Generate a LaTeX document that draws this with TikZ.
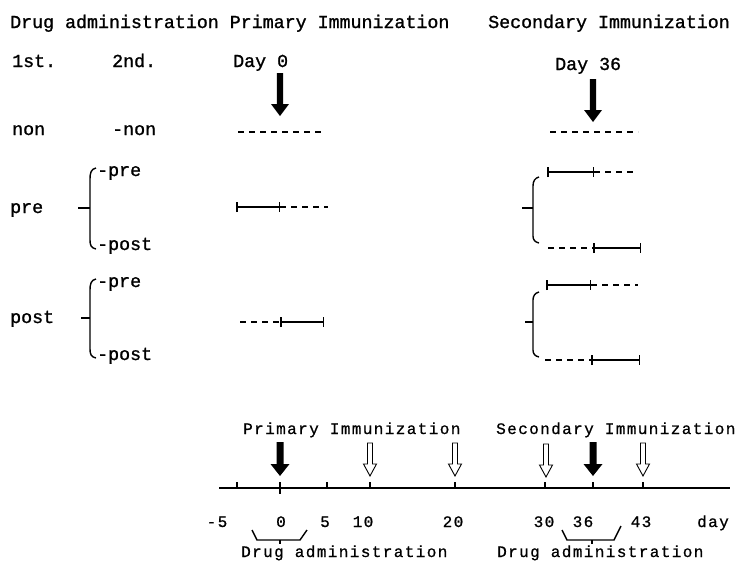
\documentclass[tikz,border=0pt]{standalone}
\usepackage{fontspec}
\setmainfont{Liberation Mono}
\newfontfamily\topf[FakeBold=1.2]{Liberation Mono}
\newfontfamily\botf[LetterSpace=8.75,FakeBold=0.8]{Liberation Mono}
\usetikzlibrary{arrows.meta}
\tikzset{
  toptext/.style={font=\topf\fontsize{18.3}{20}\selectfont, inner sep=0pt, anchor=base west},
  bottext/.style={font=\botf\fontsize{16}{18}\selectfont, inner sep=0pt, anchor=base west},
  numtext/.style={font=\botf\fontsize{16}{18}\selectfont, inner sep=0pt, anchor=base},
  dashline/.style={line width=1.4pt, dash pattern=on 6pt off 5pt},
  barline/.style={line width=2.6pt, {Bar[width=10pt,line width=1.5pt]}-{Bar[width=10pt,line width=1.5pt]}},
  bracestyle/.style={line width=1.4pt},
  axisline/.style={line width=1.6pt},
  tickline/.style={line width=1.2pt},
  bigarrow/.pic={\fill[black] (-3.2,0) -- (3.2,0) -- (3.2,31) -- (9,31) -- (0,43) -- (-9,31) -- (-3.2,31) -- cycle;},
  blackarrow/.pic={\fill[black] (-3.5,0) -- (3.5,0) -- (3.5,22) -- (9.5,22) -- (0,34) -- (-9.5,22) -- (-3.5,22) -- cycle;},
  hollowarrow/.pic={\draw[black, line width=0.9pt, fill=white] (-2.5,0) -- (2.5,0) -- (2.5,21) -- (6.5,21) -- (0,33) -- (-6.5,21) -- (-2.5,21) -- cycle;},
}
\begin{document}
\begin{tikzpicture}[x=1pt, y=-1pt]
\useasboundingbox (0,0) rectangle (740,563);

% ---------- header ----------
\node[toptext] (hdr1) at (10,28) {Drug administration Primary Immunization};
\node[toptext] (hdr2) at (488,28) {Secondary Immunization};
\node[toptext] (first) at (12,67) {1st.};
\node[toptext] (second) at (112,67) {2nd.};
\node[toptext] (day0) at (233,67) {Day 0};
\node[toptext] (day36) at (555,70) {Day 36};

% ---------- row labels ----------
\node[toptext] (non1) at (12,135) {non};
\node[toptext] (non2) at (112,135) {-non};
\node[toptext] (pre1) at (10,213) {pre};
\node[toptext] (prepre) at (97,176) {-pre};
\node[toptext] (prepost) at (97,250) {-post};
\node[toptext] (post1) at (10,323) {post};
\node[toptext] (postpre) at (97,287) {-pre};
\node[toptext] (postpost) at (97,360) {-post};

% ---------- left braces ----------
\draw[bracestyle] (96,168) .. controls (91,169) and (90,173) .. (90,179) -- (90,240) .. controls (90,245) and (91,248) .. (96,249);
\draw[bracestyle] (78,208) -- (90,208);
\draw[bracestyle] (96,279) .. controls (91,280) and (90,284) .. (90,290) -- (90,349) .. controls (90,354) and (91,357) .. (96,358);
\draw[bracestyle] (81,318) -- (90,318);

% ---------- secondary braces ----------
\draw[bracestyle] (539,177) .. controls (535,178) and (533,181) .. (533,186) -- (533,236) .. controls (533,240) and (535,242) .. (539,243);
\draw[bracestyle] (522,208) -- (533,208);
\draw[bracestyle] (539,292) .. controls (535,293) and (533,296) .. (533,300) -- (533,350) .. controls (533,354) and (535,356) .. (539,357);
\draw[bracestyle] (525,322) -- (533,322);

% ---------- top arrows ----------
\pic at (280,73) {bigarrow};
\pic at (593,79) {bigarrow};

% ---------- primary schedule lines ----------
\coordinate (pn1) at (238,132); \coordinate (pn2) at (325,132);
\draw[dashline] (pn1) -- (pn2);
\coordinate (pp1) at (236,207); \coordinate (pp2) at (280,207); \coordinate (pp3) at (328,207);
\draw[barline] (pp1) -- (pp2);
\draw[dashline] (pp2) -- (pp3);
\coordinate (po1) at (240,322); \coordinate (po2) at (280,322); \coordinate (po3) at (324,322);
\draw[dashline] (po1) -- (po2);
\draw[barline] (po2) -- (po3);

% ---------- secondary schedule lines ----------
\coordinate (sn1) at (550,132); \coordinate (sn2) at (638,132);
\draw[dashline] (sn1) -- (sn2);
\coordinate (sa1) at (547,172); \coordinate (sa2) at (594,172); \coordinate (sa3) at (637,172);
\draw[barline] (sa1) -- (sa2);
\draw[dashline] (sa2) -- (sa3);
\coordinate (sb1) at (548,248); \coordinate (sb2) at (593,248); \coordinate (sb3) at (641,248);
\draw[dashline] (sb1) -- (sb2);
\draw[barline] (sb2) -- (sb3);
\coordinate (sc1) at (546,285); \coordinate (sc2) at (591,285); \coordinate (sc3) at (638,285);
\draw[barline] (sc1) -- (sc2);
\draw[dashline] (sc2) -- (sc3);
\coordinate (sd1) at (545,360); \coordinate (sd2) at (591,360); \coordinate (sd3) at (640,360);
\draw[dashline] (sd1) -- (sd2);
\draw[barline] (sd2) -- (sd3);

% ---------- timeline ----------
\node[bottext] (prim) at (243,434) {Primary Immunization};
\node[bottext] (sec) at (496,434) {Secondary Immunization};

\pic at (280,442) {blackarrow};
\pic at (593,442) {blackarrow};
\pic at (370,443) {hollowarrow};
\pic at (455,443) {hollowarrow};
\pic at (546,444) {hollowarrow};
\pic at (643,443) {hollowarrow};

\coordinate (axL) at (219,488); \coordinate (axR) at (730,488);
\draw[axisline] (axL) -- (axR);
\foreach \t in {237,327,370,455,545,593,643}{
  \draw[tickline] (\t,488) -- (\t,482);
}
\draw[line width=2pt] (280,482) -- (280,494);

\node[numtext] (lm5) at (217,527) {-5};
\node[numtext] (l0) at (281,527) {0};
\node[numtext] (l5) at (325,527) {5};
\node[numtext] (l10) at (363,527) {10};
\node[numtext] (l20) at (453,527) {20};
\node[numtext] (l30) at (544,527) {30};
\node[numtext] (l36) at (583,527) {36};
\node[numtext] (l43) at (641,527) {43};
\node[numtext] (lday) at (713,527) {day};

% ---------- lower brackets ----------
\draw[bracestyle] (252,530) -- (257,540) -- (300,540) -- (307,530);
\draw[bracestyle] (280,540) -- (280,544);
\draw[bracestyle] (562,530) -- (567,540) -- (614,540) -- (621,526);
\draw[bracestyle] (592,540) -- (592,544);

\node[bottext] (drug1) at (241,557) {Drug administration};
\node[bottext] (drug2) at (497,557) {Drug administration};
\end{tikzpicture}
\end{document}
